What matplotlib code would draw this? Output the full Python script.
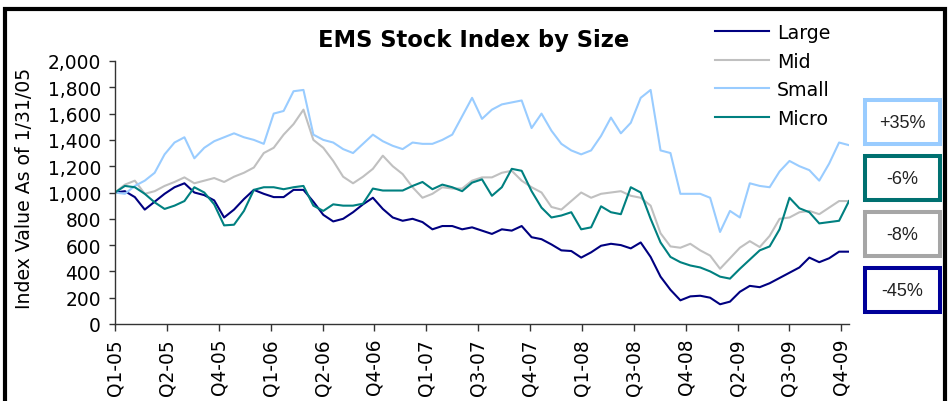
import numpy as np
import matplotlib
matplotlib.use("Agg")
from matplotlib import pyplot as plt
from matplotlib.patches import Rectangle
from matplotlib.ticker import FuncFormatter

# Index values (base 1,000 on 1/31/05) at evenly spaced dates
large = [1000, 1010, 965, 870, 930, 990, 1040, 1070, 1000, 980,
         940, 810, 870, 950, 1020, 990, 965, 965, 1020, 1020,
         930, 830, 780, 800, 850, 910, 960, 875, 810, 785,
         800, 775, 720, 745, 745, 720, 735, 710, 685, 720,
         710, 745, 660, 645, 605, 560, 555, 505, 545, 595,
         610, 600, 575, 620, 510, 360, 260, 180, 210, 215,
         200, 150, 170, 245, 290, 280, 310, 350, 390, 430,
         505, 470, 500, 550, 550]
mid = [1000, 1060, 1090, 990, 1010, 1050, 1080, 1115, 1070, 1090,
       1110, 1080, 1120, 1150, 1190, 1300, 1340, 1440, 1520, 1630,
       1400, 1340, 1240, 1120, 1070, 1120, 1180, 1280, 1200, 1140,
       1040, 960, 990, 1040, 1030, 1030, 1090, 1115, 1115, 1150,
       1165, 1090, 1040, 1000, 890, 870, 935, 1000, 960, 990,
       1000, 1010, 975, 960, 900, 690, 590, 580, 610, 560,
       520, 420, 500, 580, 630, 585, 670, 800, 810, 850,
       860, 835, 885, 935, 935]
small = [1000, 990, 1050, 1090, 1150, 1290, 1380, 1420, 1260, 1340,
         1390, 1420, 1450, 1420, 1400, 1370, 1600, 1620, 1770, 1780,
         1440, 1400, 1380, 1330, 1300, 1370, 1440, 1390, 1355, 1330,
         1380, 1370, 1370, 1400, 1440, 1580, 1720, 1560, 1630, 1670,
         1685, 1700, 1490, 1600, 1470, 1370, 1320, 1290, 1320, 1430,
         1570, 1450, 1530, 1720, 1780, 1320, 1300, 990, 990, 990,
         960, 700, 860, 810, 1070, 1050, 1040, 1160, 1240, 1200,
         1170, 1090, 1220, 1380, 1360]
micro = [1000, 1050, 1040, 990, 925, 875, 900, 935, 1040, 1000,
         910, 750, 755, 860, 1020, 1040, 1040, 1025, 1040, 1050,
         900, 860, 910, 900, 900, 915, 1030, 1015, 1015, 1015,
         1050, 1080, 1025, 1060, 1040, 1010, 1075, 1100, 975, 1040,
         1180, 1165, 1010, 885, 810, 825, 850, 720, 735, 895,
         850, 835, 1040, 1000, 800, 620, 510, 470, 445, 430,
         400, 360, 345, 420, 490, 560, 590, 720, 960, 880,
         850, 765, 775, 785, 935]

series_names = ["Large", "Mid", "Small", "Micro"]
series_colors = ["#000080", "#C0C0C0", "#99CCFF", "#008080"]

tick_labels = ["Q1-05", "Q2-05", "Q4-05", "Q1-06", "Q2-06", "Q4-06", "Q1-07", "Q3-07",
               "Q4-07", "Q1-08", "Q3-08", "Q4-08", "Q2-09", "Q3-09", "Q4-09"]
n_days = 1246      # trading days shown
tick_every = 88    # trading days between tick marks

changes = ["+35%", "-6%", "-8%", "-45%"]
box_colors = ["#99CCFF", "#007070", "#A6A6A6", "#000099"]

W, H = 953, 402
fig = plt.figure(figsize=(W / 100, H / 100), dpi=100)
ax = fig.add_axes([115 / W, 1 - 325 / H, 734 / W, 263 / H])

days = np.linspace(0, n_days - 1, len(large))
for vals, name, color in zip([large, mid, small, micro], series_names, series_colors):
    ax.plot(days, vals, color=color, lw=1.5, label=name)

ax.set_xlim(0, n_days - 1)
ax.set_ylim(0, 2000)
ax.set_yticks(np.arange(0, 2001, 200))
ax.yaxis.set_major_formatter(FuncFormatter(lambda v, p: f"{v:,.0f}"))
ax.set_xticks(np.arange(0, n_days, tick_every))
ax.set_xticklabels(tick_labels, rotation=90)

for side in ["top", "right"]:
    ax.spines[side].set_visible(False)
for side in ["left", "bottom"]:
    ax.spines[side].set_color("#333333")
    ax.spines[side].set_linewidth(1.0)
ax.tick_params(axis="y", direction="out", length=4, width=1, color="#333333",
               labelsize=13.4, pad=6)
ax.tick_params(axis="x", direction="out", length=5, width=1, color="#333333",
               labelsize=13.4, pad=5)

fig.text(25 / W, 1 - 188 / H, "Index Value As of 1/31/05", rotation=90,
         ha="center", va="center", fontsize=13.6)
fig.text(474 / W, 1 - 47 / H, "EMS Stock Index by Size", ha="center", va="baseline",
         fontsize=16.3, fontweight="bold")

fig.legend(loc="upper left", bbox_to_anchor=(715 / W, 1 - 24 / H), frameon=False,
           fontsize=13.7, handlelength=2.85, handletextpad=0.4, labelspacing=0.5,
           borderpad=0, borderaxespad=0)

# boxes with the total change of each index
box_tops = [101, 157, 213, 269]
for txt, col, top in zip(changes, box_colors, box_tops):
    fig.add_artist(Rectangle((865 / W, 1 - (top + 44) / H), 75 / W, 44 / H,
                             transform=fig.transFigure, fill=False, edgecolor=col, lw=2.9))
    fig.text(902 / W, 1 - (top + 23) / H, txt, ha="center", va="center",
             fontsize=13, family="Liberation Sans", color="#222222")

# outer frame
fig.add_artist(Rectangle((5.5 / W, -0.05), 939.5 / W, 1.05 - 10 / H,
                         transform=fig.transFigure, fill=False, edgecolor="black",
                         lw=3, clip_on=False))

fig.savefig("out.png", dpi=100)
